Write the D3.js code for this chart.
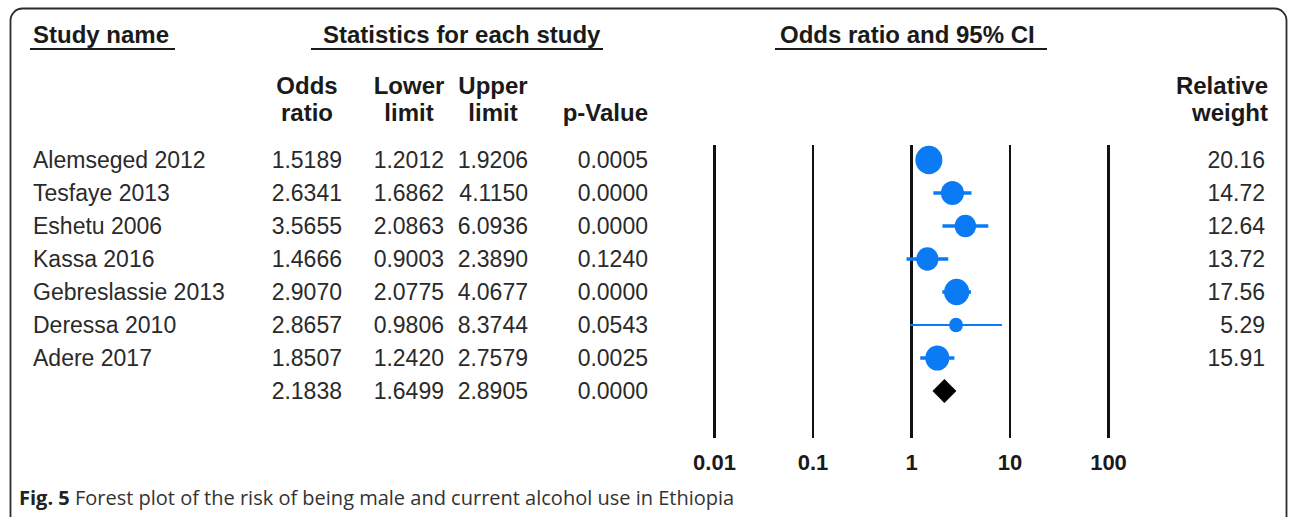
<!DOCTYPE html>
<html>
<head>
<meta charset="utf-8">
<script src="https://cdn.jsdelivr.net/npm/d3@7"></script>
<style>
  html, body { margin: 0; padding: 0; background: #fff; }
  svg { display: block; }
</style>
</head>
<body>
<script>
// Study-level results of the meta-analysis
const studyNames = ["Alemseged 2012", "Tesfaye 2013", "Eshetu 2006", "Kassa 2016",
                    "Gebreslassie 2013", "Deressa 2010", "Adere 2017"];
const oddsRatio      = [1.5189, 2.6341, 3.5655, 1.4666, 2.9070, 2.8657, 1.8507];
const lowerLimit     = [1.2012, 1.6862, 2.0863, 0.9003, 2.0775, 0.9806, 1.2420];
const upperLimit     = [1.9206, 4.1150, 6.0936, 2.3890, 4.0677, 8.3744, 2.7579];
const pValue         = [0.0005, 0.0000, 0.0000, 0.1240, 0.0000, 0.0543, 0.0025];
const relativeWeight = [20.16, 14.72, 12.64, 13.72, 17.56, 5.29, 15.91];

// Pooled (random-effects) estimate
const pooledOR = 2.1838, pooledLower = 1.6499, pooledUpper = 2.8905, pooledP = 0.0000;

// Log-scale axis ticks
const axisTicks = [0.01, 0.1, 1, 10, 100];

const W = 1292, H = 517;
const FONT = "'Liberation Sans', Arial, sans-serif";
const BLUE = "#0a7af5";

const svg = d3.select("body").append("svg")
  .attr("width", W).attr("height", H)
  .style("font-family", FONT);

// rounded frame
svg.append("rect")
  .attr("x", 10.5).attr("y", 8.5)
  .attr("width", 1276).attr("height", 522)
  .attr("rx", 12).attr("ry", 12)
  .attr("fill", "none").attr("stroke", "#2b2b2b").attr("stroke-width", 1.8);

const nRows = studyNames.length + 1;
const y = d3.scalePoint().domain(d3.range(nRows)).range([160, 391]);
const x = d3.scaleLog().domain([0.01, 100]).range([714, 1108]);
const r = d3.scaleSqrt().domain([0, d3.max(relativeWeight)]).range([0, 13.5]);

// ---- section headers ----
const sectionHeads = [
  { text: "Study name", x: 33, ux0: 30, ux1: 175 },
  { text: "Statistics for each study", x: 323, ux0: 311, ux1: 603 },
  { text: "Odds ratio and 95% CI", x: 780, ux0: 775, ux1: 1047 }
];
sectionHeads.forEach(h => {
  svg.append("text").attr("x", h.x).attr("y", 43)
    .attr("font-size", 24).attr("font-weight", "bold").attr("fill", "#1a1a1a")
    .text(h.text);
  svg.append("line").attr("x1", h.ux0).attr("x2", h.ux1)
    .attr("y1", 49).attr("y2", 49)
    .attr("stroke", "#1a1a1a").attr("stroke-width", 2);
});

// ---- column headers ----
const colRight = [342, 444, 528, 648];
const colHeads = [["Odds", "ratio"], ["Lower", "limit"], ["Upper", "limit"], ["", "p-Value"]];
colHeads.forEach((lines, i) => {
  const cx = colRight[i] - 35;
  lines.forEach((t, j) => {
    if (!t) return;
    const el = svg.append("text").attr("y", 94 + j * 27)
      .attr("font-size", 24).attr("font-weight", "bold").attr("fill", "#1a1a1a").text(t);
    if (i === 3) el.attr("x", colRight[i]).attr("text-anchor", "end");
    else el.attr("x", cx).attr("text-anchor", "middle");
  });
});
["Relative", "weight"].forEach((t, j) => {
  svg.append("text").attr("x", 1268).attr("y", 94 + j * 27)
    .attr("text-anchor", "end")
    .attr("font-size", 24).attr("font-weight", "bold").attr("fill", "#1a1a1a").text(t);
});

// ---- table rows ----
const fmt4 = d3.format(".4f"), fmt2 = d3.format(".2f");
const rows = studyNames.map((name, i) => ({
  i, name, or: oddsRatio[i], lo: lowerLimit[i], hi: upperLimit[i], p: pValue[i], w: relativeWeight[i]
}));
const pooledRow = { i: studyNames.length, name: "", or: pooledOR, lo: pooledLower, hi: pooledUpper, p: pooledP };
const allRows = rows.concat([pooledRow]);

const txt = svg.append("g").attr("font-size", 23).attr("fill", "#2a2a2a");
allRows.forEach(d => {
  const by = y(d.i) + 8;
  if (d.name) txt.append("text").attr("x", 33).attr("y", by).text(d.name);
  [d.or, d.lo, d.hi, d.p].forEach((v, k) => {
    txt.append("text").attr("x", colRight[k]).attr("y", by)
      .attr("text-anchor", "end").text(fmt4(v));
  });
  if (d.w !== undefined) {
    txt.append("text").attr("x", 1265).attr("y", by)
      .attr("text-anchor", "end").text(fmt2(d.w));
  }
});

// ---- reference lines + tick labels from the log axis ----
const lineTop = 145, lineBottom = 438;
const axis = d3.axisBottom(x)
  .tickValues(axisTicks)
  .tickFormat(d3.format("~g"))
  .tickSizeInner(-(lineBottom - lineTop))
  .tickSizeOuter(0)
  .tickPadding(16);

const gAxis = svg.append("g")
  .attr("transform", `translate(0,${lineBottom})`)
  .call(axis);
gAxis.select(".domain").remove();
gAxis.selectAll(".tick line")
  .attr("stroke", "#111")
  .attr("stroke-width", d => (Math.round(Math.log10(d)) % 2 === 0 ? 3 : 2));
gAxis.selectAll(".tick text")
  .attr("fill", "#1a1a1a")
  .attr("font-size", 22)
  .attr("font-weight", "bold")
  .attr("font-family", FONT);

// ---- confidence intervals and point estimates ----
const plot = svg.append("g");
plot.selectAll("line.ci").data(rows).join("line")
  .attr("class", "ci")
  .attr("x1", d => x(d.lo)).attr("x2", d => x(d.hi))
  .attr("y1", d => y(d.i)).attr("y2", d => y(d.i))
  .attr("stroke", BLUE)
  .attr("stroke-width", d => (d.w < 10 ? 2 : 3.5));

plot.selectAll("ellipse.pt").data(rows).join("ellipse")
  .attr("class", "pt")
  .attr("cx", d => x(d.or)).attr("cy", d => y(d.i))
  .attr("rx", d => r(d.w)).attr("ry", d => r(d.w) * 1.05)
  .attr("fill", BLUE);

// pooled diamond
const py = y(pooledRow.i), dh = 12;
plot.append("path")
  .attr("d", `M${x(pooledLower)},${py}L${x(pooledOR)},${py - dh}L${x(pooledUpper)},${py}L${x(pooledOR)},${py + dh}Z`)
  .attr("fill", "#000");

// ---- caption ----
const cap = svg.append("text").attr("x", 19).attr("y", 505)
  .attr("font-family", "'Open Sans', 'Noto Sans', sans-serif")
  .attr("font-size", 20).attr("fill", "#333");
cap.append("tspan").attr("font-weight", "bold").attr("fill", "#222").text("Fig. 5");
cap.append("tspan").text(" Forest plot of the risk of being male and current alcohol use in Ethiopia");
</script>
</body>
</html>
